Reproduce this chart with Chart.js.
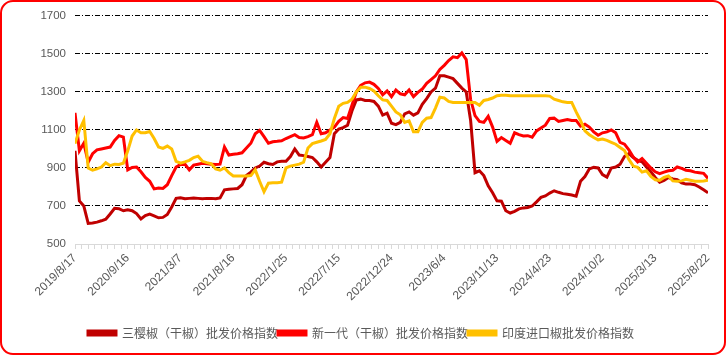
<!DOCTYPE html>
<html><head><meta charset="utf-8">
<script src="https://cdn.jsdelivr.net/npm/chart.js@4/dist/chart.umd.min.js"></script>
<style>
html,body{margin:0;padding:0;background:#fff;}
#wrap{position:relative;width:726px;height:355px;}
#frame{position:absolute;left:0;top:0;width:726px;height:355px;box-sizing:border-box;border:2px solid #ff0000;border-radius:13px;pointer-events:none;}
canvas{position:absolute;left:0;top:0;}
</style></head>
<body>
<div id="wrap"><canvas id="c" width="726" height="355"></canvas><div id="frame"></div></div>
<script>
const tickLabels = ['2019/8/17','2020/9/16','2021/3/7','2021/8/16','2022/1/25','2022/7/15','2022/12/24','2023/6/4','2023/11/13','2024/4/23','2024/10/2','2025/3/13','2025/8/22'];
const seriesNames = ['三樱椒（干椒）批发价格指数','新一代（干椒）批发价格指数','印度进口椒批发价格指数'];
const yTicks = [500,700,900,1100,1300,1500,1700];

const sanying = [
990,727,700,608,610,615,622,630,658,688,
686,675,680,675,660,632,650,657,648,638,
640,655,695,740,743,738,740,742,740,738,
740,740,738,742,785,788,790,792,812,860,
878,900,910,930,922,918,932,935,935,960,
1000,968,965,960,955,932,905,930,955,1080,
1105,1112,1125,1200,1258,1262,1255,1255,1250,1225,
1178,1188,1135,1128,1140,1185,1195,1178,1190,1235,
1265,1300,1320,1385,1385,1378,1370,1345,1320,1300,
1150,875,885,860,806,770,727,725,675,663,
672,685,690,692,700,722,745,753,768,780,
772,765,762,758,752,830,855,895,903,900,
865,852,900,905,920,960,975,955,940,932,
905,880,850,825,835,850,842,838,822,815,
815,812,800,785,770];

const xinyidai = [
1190,990,1030,930,975,995,1000,1005,1010,1045,
1070,1062,890,903,905,880,850,830,790,795,
792,812,860,905,918,920,890,915,920,925,
922,920,918,920,1010,968,972,975,980,1005,
1030,1080,1098,1065,1030,1038,1040,1043,1055,1065,
1075,1060,1058,1065,1075,1140,1080,1085,1100,1115,
1145,1165,1160,1230,1300,1335,1348,1352,1340,1318,
1285,1305,1275,1310,1290,1285,1310,1275,1298,1315,
1345,1365,1385,1418,1440,1465,1485,1480,1505,1470,
1260,1175,1145,1140,1172,1115,1040,1060,1045,1030,
1085,1075,1068,1070,1062,1095,1110,1125,1160,1162,
1145,1150,1155,1150,1150,1120,1130,1115,1090,1072,
1085,1090,1100,1085,1035,1025,995,958,932,950,
925,900,880,870,878,885,888,905,898,888,
885,878,875,872,845];

const yindu = [
1028,1100,1150,900,888,895,905,928,912,920,
918,925,990,1068,1100,1085,1085,1092,1055,1010,
1003,1015,1000,935,925,932,940,955,962,935,
928,922,895,888,900,875,858,858,858,858,
860,890,830,775,820,822,822,825,900,910,
915,920,930,1005,1028,1035,1042,1050,1080,1160,
1225,1240,1245,1262,1300,1325,1325,1318,1305,1280,
1258,1255,1225,1195,1180,1140,1148,1090,1090,1140,
1162,1165,1215,1272,1268,1250,1245,1245,1245,1245,
1245,1245,1230,1255,1260,1268,1280,1283,1282,1280,
1280,1280,1280,1280,1280,1280,1280,1280,1278,1262,
1255,1248,1245,1245,1195,1150,1095,1075,1060,1048,
1052,1045,1035,1025,1008,992,945,910,903,878,
885,855,838,835,850,858,832,830,832,840,
835,830,830,832,835];

const colors = ['#C00000','#FF0000','#FFC000'];
const allSeries = [sanying, xinyidai, yindu];
const lastIdx = sanying.length - 1;
const perLabel = lastIdx / (tickLabels.length - 1);

const datasets = allSeries.map((arr, k) => ({
  label: seriesNames[k],
  data: arr.map((v, i) => ({x: i, y: v})),
  borderColor: colors[k],
  backgroundColor: colors[k],
  borderWidth: 3,
  pointRadius: 0,
  tension: 0,
  order: 3 - k
}));

new Chart(document.getElementById('c'), {
  type: 'line',
  data: {datasets},
  options: {
    responsive: false,
    animation: false,
    layout: {padding: {left: 14, right: 18, top: 10, bottom: 6}},
    plugins: {
      tooltip: {enabled: false},
      legend: {
        position: 'bottom',
        labels: {
          sort: (a, b) => a.datasetIndex - b.datasetIndex,
          boxWidth: 28, boxHeight: 4, padding: 0,
          color: '#595959',
          font: {family: '"Noto Sans CJK SC", "Noto Sans", sans-serif', size: 12}
        }
      }
    },
    scales: {
      x: {
        type: 'linear', min: 0, max: lastIdx,
        afterFit: s => { s.height = 83; },
        border: {display: true, color: '#d9d9d9', width: 1},
        grid: {drawOnChartArea: false, drawTicks: true, tickLength: 5, color: '#d9d9d9'},
        ticks: {
          stepSize: perLabel / 8, autoSkip: false, maxRotation: 45, minRotation: 45,
          color: '#595959', padding: 2,
          font: {family: '"Liberation Sans", Arial, sans-serif', size: 12},
          callback: v => {
            const q = v / perLabel;
            return Math.abs(q - Math.round(q)) < 1e-6 ? tickLabels[Math.round(q)] : '';
          }
        }
      },
      y: {
        min: yTicks[0], max: yTicks[yTicks.length - 1],
        afterFit: s => { s.width = 61; },
        afterBuildTicks: s => { s.ticks = yTicks.map(v => ({value: v})); },
        border: {display: false, dash: [5, 2, 1, 2]},
        grid: {
          drawTicks: false, lineWidth: 1,
          color: c => (c.tick && c.tick.value === yTicks[0]) ? 'rgba(0,0,0,0)' : '#000000'
        },
        ticks: {
          color: '#595959', padding: 9,
          font: {family: '"Liberation Sans", Arial, sans-serif', size: 11.5},
          callback: v => String(v)
        }
      }
    }
  }
});
</script>
</body></html>
